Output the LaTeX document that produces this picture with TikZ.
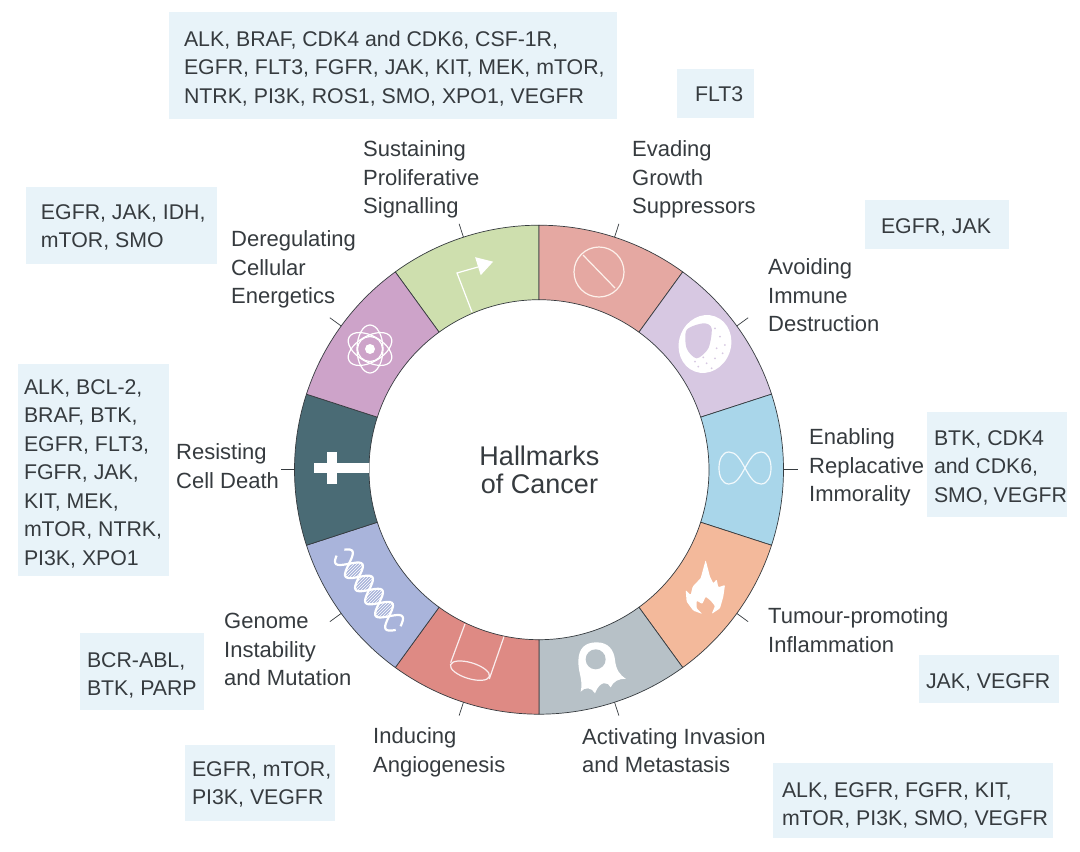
\documentclass[tikz,border=0pt]{standalone}
\usepackage{fontspec}
\setmainfont{Liberation Sans}
\usetikzlibrary{patterns}
\definecolor{seggreen}{HTML}{CEDFAE}
\definecolor{segpink}{HTML}{E5A8A2}
\definecolor{seglilac}{HTML}{D7C8E2}
\definecolor{segblue}{HTML}{A9D6EA}
\definecolor{segorange}{HTML}{F3B99B}
\definecolor{seggrey}{HTML}{B7C1C7}
\definecolor{segsalmon}{HTML}{DE8A84}
\definecolor{segperi}{HTML}{A9B4DB}
\definecolor{segteal}{HTML}{4A6B75}
\definecolor{segmauve}{HTML}{CDA3C9}
\definecolor{boxblue}{HTML}{E8F3F9}
\definecolor{inkgrey}{HTML}{363B3F}
\begin{document}
\begin{tikzpicture}[x=1pt,y=-1pt,
    seg/.style={draw=inkgrey,line width=.7pt,line join=round},
    tick/.style={draw=inkgrey,line width=.7pt},
    main label/.style={anchor=west,align=left,inner sep=0pt,text=inkgrey,font=\fontsize{22}{28.5}\selectfont},
    drug box/.style n args={4}{fill=boxblue,align=left,inner xsep=0pt,inner ysep=0pt,text=inkgrey,font=\fontsize{21.3}{28.5}\selectfont,
        text width=#1pt,minimum height=#2,execute at begin node={\leftskip=#3pt\spaceskip=0pt\xspaceskip=0pt},text height=#4pt},
    icon/.style={draw=white,line width=1.2pt},
    zoomed/.style={x=.3333pt,y=-.3333pt}]
    \useasboundingbox (0,0) rectangle (1080,852);
    \fill[white] (0,0) rectangle (1080,852);

    % ring
    \begin{scope}[shift={(539,469.7)},y=1pt]
        \foreach \a/\c in {90/seggreen,54/segpink,18/seglilac,-18/segblue,-54/segorange,-90/seggrey,-126/segsalmon,-162/segperi,162/segteal,126/segmauve}
            \path[seg,fill=\c] (\a:244.5) arc[start angle=\a,delta angle=36,radius=244.5]
                -- ({\a+36}:170) arc[start angle={\a+36},delta angle=-36,radius=170] -- cycle;
        \foreach \n/\a in {1/108,2/72,3/36,4/0,5/-36,6/-72,7/-108,8/-144,9/180,10/144} {
            \coordinate (s\n) at (\a:244.5);
            \coordinate (t\n) at (\a:258.5);
            \draw[tick] (s\n) -- (t\n);
        }
    \end{scope}

    % labels
    \node[main label] (1) at (363,179.5) {Sustaining\\Proliferative\\Signalling};
    \node[main label] (2) at (632,179.5) {Evading\\Growth\\Suppressors};
    \node[main label] (3) at (768,295.5) {Avoiding\\Immune\\Destruction};
    \node[main label] (4) at (809,467.5) {Enabling\\Replacative\\Immorality};
    \node[main label] (5) at (768,630) {Tumour-promoting\\Inflammation};
    \node[main label] (6) at (582,750.5) {Activating Invasion\\and Metastasis};
    \node[main label] (7) at (373,752.5) {Inducing\\Angiogenesis};
    \node[main label] (8) at (224,649.5) {Genome\\Instability\\and Mutation};
    \node[main label] (9) at (176,466) {Resisting\\Cell Death};
    \node[main label] (10) at (231,269.5) {Deregulating\\Cellular\\Energetics};
    \node[align=center,inner sep=0pt,text=inkgrey,font=\fontsize{27}{28.5}\selectfont] (0) at (539.5,470) {Hallmarks\\of Cancer};

    % drug boxes
    \node[drug box={448}{107}{15}{20.9}] (11) at (393,65.5) {ALK, BRAF, CDK4 and CDK6, CSF-1R,\\EGFR, FLT3, FGFR, JAK, KIT, MEK, mTOR,\\NTRK, PI3K, ROS1, SMO, XPO1, VEGFR};
    \node[drug box={77}{49}{18}{16.4}] (12) at (715.5,93.5) {FLT3};
    \node[drug box={144}{49}{16}{19.9}] (13) at (937,224.5) {EGFR, JAK};
    \node[drug box={140}{105}{7}{20.9}] (14) at (997,464.5) {BTK, CDK4\\and CDK6,\\SMO, VEGFR};
    \node[drug box={140}{48}{7}{20.9}] (15) at (989,679) {JAK, VEGFR};
    \node[drug box={280}{75}{9}{24.4}] (16) at (913,800.5) {ALK, EGFR, FGFR, KIT,\\mTOR, PI3K, SMO, VEGFR};
    \node[drug box={150}{76}{7}{17.4}] (17) at (260,783) {EGFR, mTOR,\\PI3K, VEGFR};
    \node[drug box={124}{77}{7}{22.4}] (18) at (142,671.5) {BCR-ABL,\\BTK, PARP};
    \node[drug box={151}{212}{6}{22}] (19) at (93.5,470) {ALK, BCL-2,\\BRAF, BTK,\\EGFR, FLT3,\\FGFR, JAK,\\KIT, MEK,\\mTOR, NTRK,\\PI3K, XPO1};
    \node[drug box={191}{77}{15}{18.4}] (20) at (121.5,225.5) {EGFR, JAK, IDH,\\mTOR, SMO};

    % icons
    \draw[icon,fill=white] (492,262) -- (476,258) -- (481,274) -- cycle;
    \draw[icon] (472,312) -- (457,273) -- (478,267);

    \begin{scope}[shift={(370,349)}]
        \fill[white] (0,0) circle[radius=5];
        \draw[icon] (0,0) circle[radius=12.5];
        \foreach \r in {30,90,150}
            \draw[icon,rotate=\r] (0,0) ellipse[x radius=24,y radius=13];
    \end{scope}

    \fill[white] (314,463) rectangle (369,473);
    \fill[white] (327,452) rectangle (337,484);

    \draw[icon,draw=white!80!segorange] (599,272) circle[radius=25] (583,255) -- (615,288);

    \begin{scope}[shift={(540,220)},zoomed]
        \fill[white,rotate around={-20:(495,372)}] (495,372) ellipse[x radius=78,y radius=88];
        \fill[seglilac] plot[smooth cycle] coordinates {(440,330) (490,310) (515,325) (505,385) (470,415) (440,385)};
        \foreach \p in {(525,325),(540,350),(555,375),(530,385),(548,400),(525,415),(500,430),(475,440),(515,445),(490,412),(465,425)}
            \fill[seglilac] \p circle[radius=3];
    \end{scope}

    \begin{scope}[shift={(745,468)}]
        \foreach \s in {1,-1}
            \draw[icon,draw=white!85!segblue,xscale=\s] (0,0) .. controls (5,-9) and (9,-16) .. (16,-16) .. controls (23,-16) and (26,-8) .. (26,0)
                .. controls (26,8) and (23,16) .. (16,16) .. controls (9,16) and (5,9) .. (0,0);
    \end{scope}

    \begin{scope}[shift={(540,480)},zoomed]
        % flame
        \fill[white,rounded corners=1pt] (497,240) -- (510,290) -- (520,310) -- (530,298) -- (535,322) -- (555,315) -- (550,350) -- (540,385) -- (515,402) -- (525,378) -- (512,362) -- (497,350) -- (487,372) -- (470,362) -- (470,385) -- (487,402) -- (460,392) -- (440,365) -- (437,330) -- (452,345) -- (458,320) -- (472,305) -- (482,295) -- cycle;
        % ghost cell
        \fill[white] (115,545) .. controls (115,505) and (135,487) .. (170,487) .. controls (205,487) and (222,510) .. (225,540)
            .. controls (228,570) and (240,585) .. (258,597) .. controls (235,595) and (220,605) .. (212,622)
            .. controls (205,605) and (180,600) .. (165,640) .. controls (155,622) and (135,620) .. (122,635)
            .. controls (130,600) and (115,580) .. (115,545);
        \fill[seggrey] (167,538) circle[radius=30];
    \end{scope}

    \begin{scope}[shift={(290,480)},zoomed]
        \draw[icon,draw=white!85!segsalmon] (525,432) -- (482,548) (642,470) -- (598,597);
        \draw[icon,draw=white!85!segsalmon,rotate around={-17:(540,572)}] (540,572) ellipse[x radius=61,y radius=24];
    \end{scope}

    \begin{scope}[shift={(369,590)},rotate=-52.6]
        \fill[pattern=north east lines,pattern color=white] plot[domain=-33:33,samples=50] (\x,{10.5*sin(10.9*\x)}) -- plot[domain=33:-33,samples=50] (\x,{-10.5*sin(10.9*\x)}) -- cycle;
        \draw[white,line width=2.2pt] plot[domain=-47:48,samples=60,smooth] (\x,{10.5*sin(10.9*\x)});
        \draw[white,line width=2.2pt] plot[domain=-47:48,samples=60,smooth] (\x,{-10.5*sin(10.9*\x)});
    \end{scope}
\end{tikzpicture}
\end{document}
